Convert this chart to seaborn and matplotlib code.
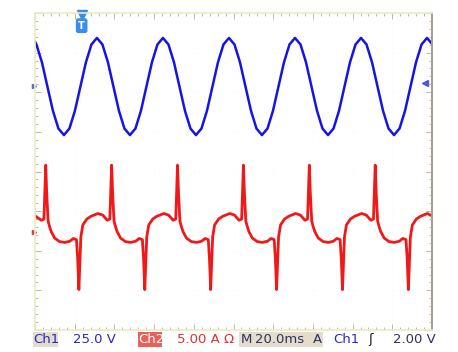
import matplotlib
matplotlib.use("Agg")
import matplotlib.pyplot as plt
import seaborn as sns
import pandas as pd

# time in ms (20 ms / div), channel values in screen divisions
ch1_t = [0.0, 0.71, 3.48, 6.25, 9.03, 11.80, 14.57, 17.34, 20.11, 22.88, 25.66, 28.43, 31.20,
         33.97, 36.74, 39.51, 42.29, 45.06, 47.83, 50.60, 53.37, 56.14, 58.92, 61.69, 64.46,
         67.23, 70.00, 72.77, 75.55, 78.32, 81.09, 83.86, 86.63, 89.40, 92.18, 94.95, 97.72,
         100.49, 103.26, 106.03, 108.81, 111.58, 114.35, 117.12, 119.89, 122.66, 125.44, 128.21, 130.98,
         133.75, 136.52, 139.29, 142.07, 144.84, 147.61, 150.38, 153.15, 155.92, 158.70, 161.47, 164.24,
         167.01, 169.78, 172.55, 175.33, 178.10, 180.87, 183.64, 186.41, 189.18, 191.96, 194.73, 197.50,
         200.0]
ch1_v = [3.28, 3.206, 2.757, 2.145, 1.532, 1.084, 0.92, 1.084, 1.532, 2.145, 2.757, 3.206, 3.37,
         3.206, 2.757, 2.145, 1.532, 1.084, 0.92, 1.084, 1.532, 2.145, 2.757, 3.206, 3.37,
         3.206, 2.757, 2.145, 1.532, 1.084, 0.92, 1.084, 1.532, 2.145, 2.757, 3.206, 3.37,
         3.206, 2.757, 2.145, 1.532, 1.084, 0.92, 1.084, 1.532, 2.145, 2.757, 3.206, 3.37,
         3.206, 2.757, 2.145, 1.532, 1.084, 0.92, 1.084, 1.532, 2.145, 2.757, 3.206, 3.37,
         3.206, 2.757, 2.145, 1.532, 1.084, 0.92, 1.084, 1.532, 2.145, 2.757, 3.206, 3.37,
         3.22]

ch2_t = [0.0, 0.9, 3.2, 4.5, 5.0,
         5.4, 5.9, 6.6, 7.4, 8.2, 9.9, 12.4, 15.0, 17.5, 19.3, 20.9, 21.5, 22.1, 22.6, 23.1, 24.1,
         26.1, 28.2, 31.7, 34.1, 36.4, 37.7, 38.2,
         38.6, 39.1, 39.8, 40.6, 41.4, 43.1, 45.6, 48.2, 50.7, 52.5, 54.1, 54.7, 55.3, 55.8, 56.3, 57.3,
         59.3, 61.4, 64.9, 67.3, 69.6, 70.9, 71.4,
         71.8, 72.3, 73.0, 73.8, 74.6, 76.3, 78.8, 81.4, 83.9, 85.7, 87.3, 87.9, 88.5, 89.0, 89.5, 90.5,
         92.5, 94.6, 98.1, 100.5, 102.8, 104.1, 104.6,
         105.0, 105.5, 106.2, 107.0, 107.8, 109.5, 112.0, 114.6, 117.1, 118.9, 120.5, 121.1, 121.7, 122.2,
         122.7, 123.7, 125.7, 127.8, 131.3, 133.7, 136.0, 137.3, 137.8,
         138.2, 138.7, 139.4, 140.2, 141.0, 142.7, 145.2, 147.8, 150.3, 152.1, 153.7, 154.3, 154.9, 155.4,
         155.9, 156.9, 158.9, 161.0, 164.5, 166.9, 169.2, 170.5, 171.0,
         171.4, 171.9, 172.6, 173.4, 174.2, 175.9, 178.4, 181.0, 183.5, 185.3, 186.9, 187.5, 188.1, 188.6,
         189.1, 190.1, 192.1, 194.2, 197.7, 200.0]
ch2_v = [-1.12, -1.15, -1.23, -1.20, -0.45,
         0.16, -0.55, -1.25, -1.40, -1.52, -1.68, -1.77, -1.79, -1.76, -1.69, -1.72, -2.2, -2.98, -2.3, -1.65, -1.35,
         -1.20, -1.13, -1.06, -1.10, -1.23, -1.20, -0.45,
         0.16, -0.55, -1.25, -1.40, -1.52, -1.68, -1.77, -1.79, -1.76, -1.69, -1.72, -2.2, -2.98, -2.3, -1.65, -1.35,
         -1.20, -1.13, -1.06, -1.10, -1.23, -1.20, -0.45,
         0.16, -0.55, -1.25, -1.40, -1.52, -1.68, -1.77, -1.79, -1.76, -1.69, -1.72, -2.2, -2.98, -2.3, -1.65, -1.35,
         -1.20, -1.13, -1.06, -1.10, -1.23, -1.20, -0.45,
         0.16, -0.55, -1.25, -1.40, -1.52, -1.68, -1.77, -1.79, -1.76, -1.69, -1.72, -2.2, -2.98, -2.3,
         -1.65, -1.35, -1.20, -1.13, -1.06, -1.10, -1.23, -1.20, -0.45,
         0.16, -0.55, -1.25, -1.40, -1.52, -1.68, -1.77, -1.79, -1.76, -1.69, -1.72, -2.2, -2.98, -2.3,
         -1.65, -1.35, -1.20, -1.13, -1.06, -1.10, -1.23, -1.20, -0.45,
         0.16, -0.55, -1.25, -1.40, -1.52, -1.68, -1.77, -1.79, -1.76, -1.69, -1.72, -2.2, -2.98, -2.3,
         -1.65, -1.35, -1.20, -1.13, -1.06, -1.12]

trig_t = 23.5
trig_level = 2.23
ch1_gnd = 2.16
ch2_gnd = -1.53

status = [("Ch1", 0.072, "#2828c8"), ("25.0 V", 0.160, "#2828c8"),
          ("Ch2", 0.302, "white"), ("5.00 A \u03a9", 0.386, "#e03030"),
          ("M", 0.526, "#303060"), ("20.0ms", 0.556, "#303060"),
          ("A", 0.683, "#303060"), ("Ch1", 0.727, "#2828c8"),
          ("\u0283", 0.803, "#202020"), ("2.00 V", 0.858, "#303060")]

df1 = pd.DataFrame({"t": ch1_t, "v": ch1_v})
df2 = pd.DataFrame({"t": ch2_t, "v": ch2_v})

sns.set_style("white")
fig = plt.figure(figsize=(4.58, 3.52), dpi=100)
ax = fig.add_axes([35 / 458, 22 / 352, 397 / 458, 317 / 352])

sns.lineplot(data=df1, x="t", y="v", ax=ax, color="#1414e6", lw=1.8, sort=False, estimator=None)
sns.lineplot(data=df2, x="t", y="v", ax=ax, color="#f01818", lw=2.0, sort=False, estimator=None)

ax.set_xlim(0, 200)
ax.set_ylim(-4, 4)
ax.set_xlabel("")
ax.set_ylabel("")
ax.set_xticks(range(0, 201, 20))
ax.set_xticks([i * 4 for i in range(51)], minor=True)
ax.set_yticks(range(-4, 5))
ax.set_yticks([i * 0.2 - 4 for i in range(41)], minor=True)
ax.tick_params(which="both", direction="in", top=True, right=True, left=True, bottom=True,
               labelbottom=False, labelleft=False, color="#b0b0a0", width=0.6)
ax.tick_params(which="major", length=4)
ax.tick_params(which="minor", length=2.5)
ax.grid(True, which="major", color="#f8f8ec", lw=0.5, ls=":")
for side in ["left", "top", "bottom"]:
    ax.spines[side].set_color("#ecebc0")
    ax.spines[side].set_linewidth(1.2)
ax.spines["right"].set_color("#a89c90")
ax.spines["right"].set_linewidth(1.4)

# trigger and ground markers
ax.plot([trig_t], [3.96], marker="v", color="#3a8ee6", ms=7, clip_on=False)
ax.text(trig_t, 3.68, "T", color="white", fontsize=7, fontweight="bold", ha="center", va="center",
        bbox=dict(boxstyle="round,pad=0.25", fc="#3a8ee6", ec="none"))
ax.plot([196.5], [trig_level], marker="<", color="#4a5ad8", ms=4, clip_on=False)
ax.plot([-0.6], [ch1_gnd], marker=">", color="#5a6ad8", ms=3, clip_on=False)
ax.plot([-0.6], [ch2_gnd], marker=">", color="#e04040", ms=3, clip_on=False)

# status bar
fig.patches.append(plt.Rectangle((33 / 458, 5 / 352), 25 / 458, 15 / 352, transform=fig.transFigure,
                                 fc="#e4dccc", ec="none"))
fig.patches.append(plt.Rectangle((138 / 458, 5 / 352), 24 / 458, 15 / 352, transform=fig.transFigure,
                                 fc="#e86058", ec="none"))
fig.patches.append(plt.Rectangle((239 / 458, 5 / 352), 84 / 458, 15 / 352, transform=fig.transFigure,
                                 fc="#e4dccc", ec="none"))
for txt, xpos, col in status:
    fig.text(xpos, 12.5 / 352, txt, color=col, fontsize=9.5, ha="left", va="center",
             family="DejaVu Sans")

fig.savefig("out.png", dpi=100)
